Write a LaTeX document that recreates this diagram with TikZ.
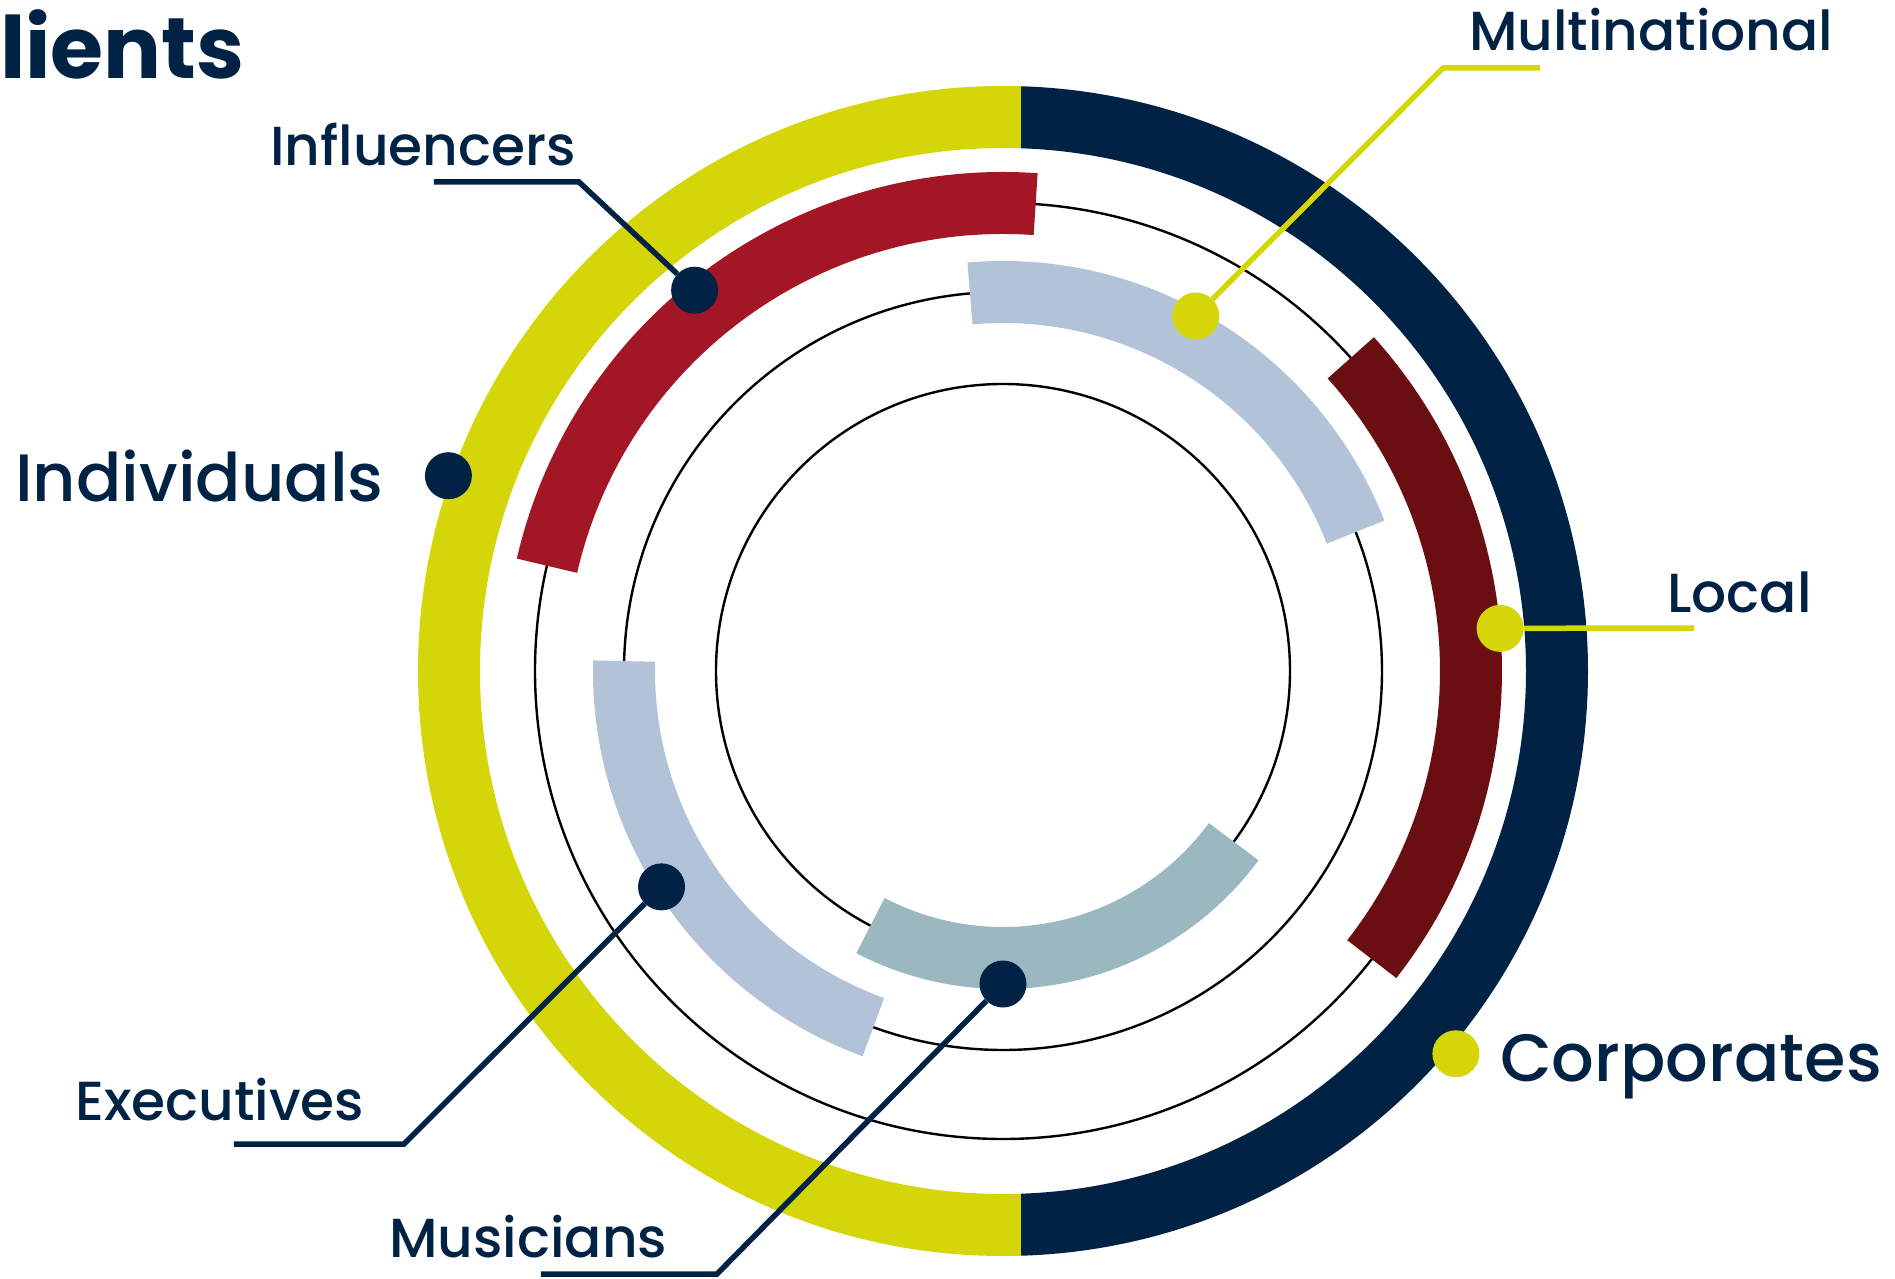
\documentclass[tikz,border=0pt]{standalone}
\usepackage{fontspec}
\setmainfont{Poppins}
\IfFontExistsTF{Poppins Medium}{\newfontfamily\lblfont{Poppins Medium}}{\newfontfamily\lblfont{Poppins}}
\definecolor{lime}{RGB}{212,214,10}
\definecolor{navy}{RGB}{0,34,68}
\definecolor{crimson}{RGB}{163,22,38}
\definecolor{maroon}{RGB}{107,14,18}
\definecolor{pale}{RGB}{179,195,215}
\definecolor{slate}{RGB}{155,184,193}
\begin{document}
\begin{tikzpicture}[x=1pt, y=1pt,
    band/.style={line width=62pt},
    thin/.style={line width=2.4pt, black},
    dot/.style={circle, fill=#1, minimum size=47pt, inner sep=0pt},
    conn/.style={line width=5.5pt, #1},
    lbl/.style={anchor=base west, inner sep=0pt, text=navy, font=\lblfont\fontsize{55}{58}\selectfont},
    biglbl/.style={lbl, font=\lblfont\fontsize{67}{70}\selectfont}]
        \useasboundingbox (-1003,-608) rectangle (892,671);

        % Thin circles
        \draw[thin] (0,0) circle (287);
        \draw[thin] (0,0) circle (379);
        \draw[thin] (0,0) circle (468);

        % Outer ring, split a little right of the centre
        \begin{scope}
            \clip (-700,-700) rectangle (18,700);
            \draw[band, lime] (0,0) circle (554);
        \end{scope}
        \begin{scope}
            \clip (18,-700) rectangle (700,700);
            \draw[band, navy] (0,0) circle (554);
        \end{scope}

        % Inner bands
        \draw[band, crimson] (86:468) arc[start angle=86, end angle=167, radius=468];
        \draw[band, maroon] (-38:468) arc[start angle=-38, end angle=42, radius=468];
        \draw[band, pale] (21.5:379) arc[start angle=21.5, end angle=95, radius=379];
        \draw[band, pale] (178.5:379) arc[start angle=178.5, end angle=250, radius=379];
        \draw[band, slate] (242.5:287) arc[start angle=242.5, end angle=323.5, radius=287];

        % Title
        \node at (-1003,592) (title) [anchor=base west, inner sep=0pt, text=navy, font=\bfseries\fontsize{86}{90}\selectfont] {lients};

        % Individuals and corporates
        \node at (160.6:588) (dIndi) [dot=navy] {};
        \node at (-988,169) (tIndi) [biglbl] {Individuals};
        \node at (-40.2:593) (dCorp) [dot=lime] {};
        \node at (497,-410) (tCorp) [biglbl] {Corporates};

        % Influencers
        \node at (129:490) (dInfl) [dot=navy] {};
        \coordinate (kInfl) at (-424,489);
        \coordinate (eInfl) at (-569,489);
        \node at (-733,505) (tInfl) [lbl] {Influencers};
        \draw[conn=navy] (dInfl) -- (kInfl) -- (eInfl);

        % Executives
        \node at (212.3:404) (dExec) [dot=navy] {};
        \coordinate (kExec) at (-599,-473);
        \coordinate (eExec) at (-769,-473);
        \node at (-928,-449) (tExec) [lbl] {Executives};
        \draw[conn=navy] (dExec) -- (kExec) -- (eExec);

        % Musicians
        \node at (270:313) (dMusi) [dot=navy] {};
        \coordinate (kMusi) at (-286,-603);
        \coordinate (eMusi) at (-462,-603);
        \node at (-614,-586) (tMusi) [lbl] {Musicians};
        \draw[conn=navy] (dMusi) -- (kMusi) -- (eMusi);

        % Multinational
        \node at (61.5:404) (dMult) [dot=lime] {};
        \coordinate (kMult) at (440,603);
        \coordinate (eMult) at (537,603);
        \node at (466,620) (tMult) [lbl] {Multinational};
        \draw[conn=lime] (dMult) -- (kMult) -- (eMult);

        % Local
        \node at (4.9:499) (dLoca) [dot=lime] {};
        \coordinate (eLoca) at (691,43);
        \node at (664,58) (tLoca) [lbl] {Local};
        \draw[conn=lime] (dLoca) -- (eLoca);
    \end{tikzpicture}
\end{document}
